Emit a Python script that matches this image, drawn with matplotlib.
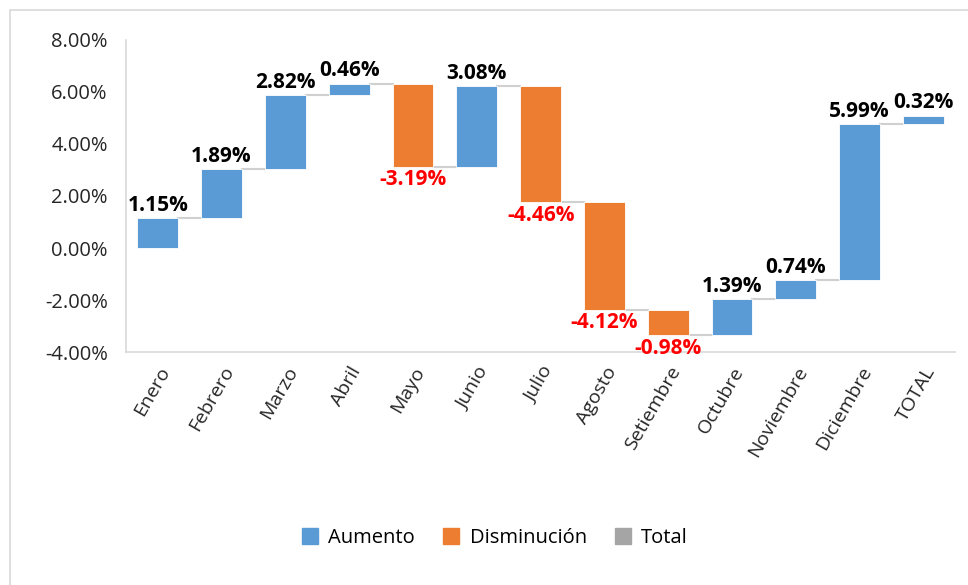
import numpy as np
import matplotlib.pyplot as plt
from matplotlib.patches import Rectangle, Patch

meses = ["Enero", "Febrero", "Marzo", "Abril", "Mayo", "Junio", "Julio",
         "Agosto", "Setiembre", "Octubre", "Noviembre", "Diciembre", "TOTAL"]
variacion = [1.15, 1.89, 2.82, 0.46, -3.19, 3.08, -4.46,
             -4.12, -0.98, 1.39, 0.74, 5.99, 0.32]
yticks = [-4, -2, 0, 2, 4, 6, 8]

azul = "#5B9BD5"
naranja = "#ED7D31"
gris = "#A5A5A5"

plt.rcParams['font.family'] = ['Open Sans', 'DejaVu Sans']

fig = plt.figure(figsize=(9.68, 5.85), dpi=100)
ax = fig.add_axes([0.130, 0.398, 0.857, 0.534])

# marco del grafico
fig.patches.append(Rectangle((10 / 968, -0.05), 1.0, 1 - 10 / 585 + 0.05,
                             transform=fig.transFigure, fill=False,
                             edgecolor="#d9d9d9", lw=1.2))

vals = np.array(variacion)
fin = np.cumsum(vals)
ini = fin - vals
x = np.arange(len(meses))
w = 0.64

colores = [azul if v >= 0 else naranja for v in vals]
ax.bar(x, vals, bottom=ini, width=w, color=colores, edgecolor="white", linewidth=0.6, zorder=3)

# conectores
for i in range(len(x) - 1):
    ax.plot([x[i] + w / 2, x[i + 1] - w / 2], [fin[i], fin[i]],
            color="#d0d0d0", lw=1.5, zorder=2)

# etiquetas
for i, v in enumerate(vals):
    if v >= 0:
        ax.text(x[i], fin[i] + 0.08, f"{v:.2f}%", ha="center", va="bottom",
                fontsize=15, fontweight="bold", color="black")
    else:
        ax.text(x[i], fin[i] - 0.1, f"{v:.2f}%", ha="center", va="top",
                fontsize=15, fontweight="bold", color="red")

ax.set_xlim(-0.5, len(meses) - 0.5)
ax.set_ylim(-4, 8)
ax.set_yticks(yticks)
ax.set_yticklabels([f"{t:.2f}%" for t in yticks], fontsize=14.5, color="#262626")
ax.set_xticks(x)
ax.set_xticklabels(meses, rotation=60, ha="right", rotation_mode="anchor",
                   fontsize=14, color="#262626")
ax.tick_params(axis="both", length=0)
ax.tick_params(axis="y", pad=13)
ax.tick_params(axis="x", pad=8)

for s in ["top", "right"]:
    ax.spines[s].set_visible(False)
ax.spines["left"].set_color("#d9d9d9")
ax.spines["bottom"].set_color("#d9d9d9")
ax.spines["left"].set_linewidth(1.2)
ax.spines["bottom"].set_linewidth(1.2)

handles = [Patch(color=azul, label="Aumento"),
           Patch(color=naranja, label="Disminución"),
           Patch(color=gris, label="Total")]
fig.legend(handles=handles, loc="center", bbox_to_anchor=(495 / 968, 1 - 538 / 585),
           ncol=3, frameon=False, fontsize=14.5, handlelength=0.8, handleheight=0.8,
           handletextpad=0.5, columnspacing=1.4)

fig.savefig("out.png", dpi=100)
